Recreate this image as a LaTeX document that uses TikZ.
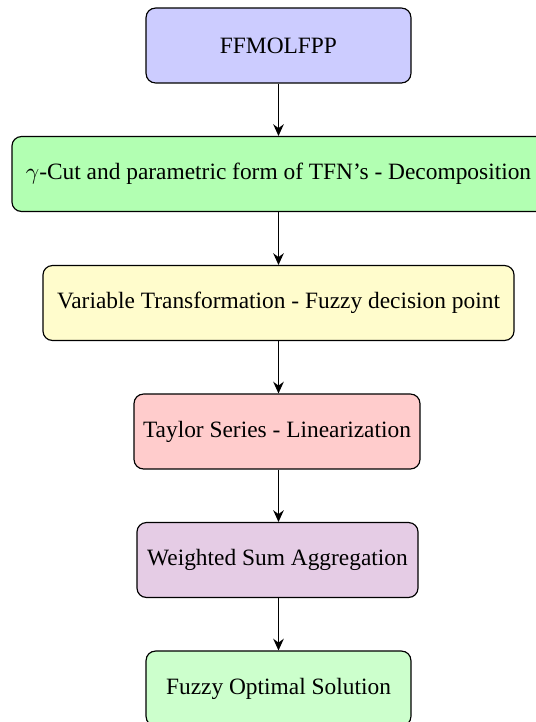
\documentclass[tikz,border=0pt]{standalone}
\usepackage{fontspec}
\setmainfont{Liberation Serif}
\usetikzlibrary{arrows.meta}
\begin{document}
\begin{tikzpicture}[x=0.4274pt,y=-0.4274pt,
  box/.style={draw=black, line width=0.5pt, rounded corners=4pt, minimum height=32pt, inner sep=1pt, align=center, font=\rmfamily},
  flow/.style={-{Stealth[length=5pt,width=4.5pt]}, line width=0.8pt}]
\useasboundingbox (0,0) rectangle (536,722);
\node[box, fill=blue!20, minimum width=113.2pt] (n1) at (278.5,45.5) {FFMOLFPP};
\node[box, fill=green!30, minimum width=227.8pt] (n2) at (278.5,174) {$\gamma$-Cut and parametric form of TFN's - Decomposition};
\node[box, fill=yellow!20, minimum width=201.3pt] (n3) at (278.5,303) {Variable Transformation - Fuzzy decision point};
\node[box, fill=red!20, minimum width=122.2pt] (n4) at (277,431.5) {Taylor Series - Linearization};
\node[box, fill=violet!20, minimum width=120.1pt] (n5) at (277.5,560) {Weighted Sum Aggregation};
\node[box, fill=green!20, minimum width=113.2pt] (n6) at (278.5,688.5) {Fuzzy Optimal Solution};
\draw[flow] (n1.south -| 278.5,0) -- (n2.north -| 278.5,0);
\draw[flow] (n2.south -| 278.5,0) -- (n3.north -| 278.5,0);
\draw[flow] (n3.south -| 278.5,0) -- (n4.north -| 278.5,0);
\draw[flow] (n4.south -| 278.5,0) -- (n5.north -| 278.5,0);
\draw[flow] (n5.south -| 278.5,0) -- (n6.north -| 278.5,0);
\end{tikzpicture}
\end{document}
